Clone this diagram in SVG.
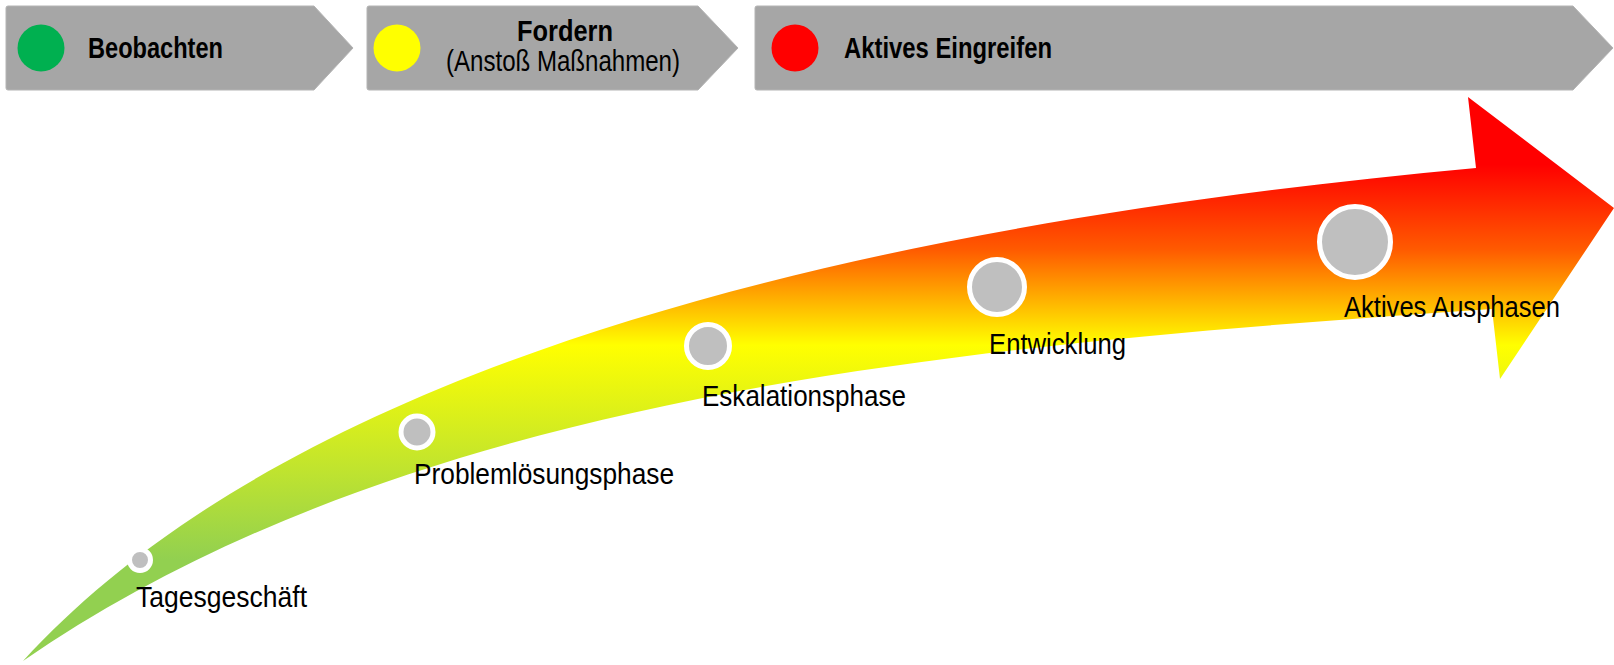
<svg xmlns="http://www.w3.org/2000/svg" width="1614" height="665" viewBox="0 0 1614 665">
<defs>
<linearGradient id="grad" gradientUnits="userSpaceOnUse" x1="0" y1="97" x2="0" y2="661">
<stop offset="0.12" stop-color="#FF0000"/>
<stop offset="0.27" stop-color="#FF5A00"/>
<stop offset="0.44" stop-color="#FFFF00"/>
<stop offset="0.82" stop-color="#92D050"/>
<stop offset="1" stop-color="#92D050"/>
</linearGradient>
<style>
.box{fill:#A6A6A6;stroke:#B4B4B4;stroke-width:1;stroke-linejoin:round}
.hd{font-family:"Liberation Sans",Arial,sans-serif;font-size:29px;font-weight:bold;fill:#000}
.sub{font-family:"Liberation Sans",Arial,sans-serif;font-size:29px;fill:#000}
.lbl{font-family:"Liberation Sans",Arial,sans-serif;font-size:30px;fill:#000}
.dot{fill:#BFBFBF;stroke:#FFFFFF;stroke-width:5}
</style>
</defs>
<rect width="1614" height="665" fill="#FFFFFF"/>
<g id="phase-beobachten">
<path class="box" d="M8,6 H314 L353,48 L314,90 H8 Q6,90 6,88 V8 Q6,6 8,6 Z"/>
<circle cx="41" cy="48" r="23.5" fill="#00B050"/>
<text class="hd" x="88" y="58" textLength="135" lengthAdjust="spacingAndGlyphs">Beobachten</text>
</g>
<g id="phase-fordern">
<path class="box" d="M369,6 H698 L738,48 L698,90 H369 Q367,90 367,88 V8 Q367,6 369,6 Z"/>
<circle cx="397" cy="48" r="23.5" fill="#FFFF00"/>
<text class="hd" x="565" y="41" text-anchor="middle" textLength="96" lengthAdjust="spacingAndGlyphs">Fordern</text>
<text class="sub" x="563" y="71" text-anchor="middle" textLength="234" lengthAdjust="spacingAndGlyphs">(Anstoß Maßnahmen)</text>
</g>
<g id="phase-eingreifen">
<path class="box" d="M757,6 H1573 L1613,48 L1573,90 H757 Q755,90 755,88 V8 Q755,6 757,6 Z"/>
<circle cx="795" cy="48" r="23.5" fill="#FF0000"/>
<text class="hd" x="844" y="58" textLength="208" lengthAdjust="spacingAndGlyphs">Aktives Eingreifen</text>
</g>
<g id="arrow">
<path d="M23,661 C280,380 800,230 1476,168 L1468,97 L1614,208 L1500,379 L1492,309 C992,344 423,385 23,661 Z" fill="url(#grad)"/>
</g>
<g id="step-tagesgeschaeft">
<circle class="dot" cx="140" cy="560" r="10.5"/>
<text class="lbl" x="136" y="607" textLength="171" lengthAdjust="spacingAndGlyphs">Tagesgeschäft</text>
</g>
<g id="step-problemloesung">
<circle class="dot" cx="417" cy="432" r="16"/>
<text class="lbl" x="414" y="484" textLength="260" lengthAdjust="spacingAndGlyphs">Problemlösungsphase</text>
</g>
<g id="step-eskalation">
<circle class="dot" cx="708" cy="346" r="21.5"/>
<text class="lbl" x="702" y="406" textLength="204" lengthAdjust="spacingAndGlyphs">Eskalationsphase</text>
</g>
<g id="step-entwicklung">
<circle class="dot" cx="997" cy="287" r="27.5"/>
<text class="lbl" x="989" y="354" textLength="137" lengthAdjust="spacingAndGlyphs">Entwicklung</text>
</g>
<g id="step-ausphasen">
<circle class="dot" cx="1355" cy="242" r="35.5"/>
<text class="lbl" x="1344" y="317" textLength="216" lengthAdjust="spacingAndGlyphs">Aktives Ausphasen</text>
</g>
</svg>
